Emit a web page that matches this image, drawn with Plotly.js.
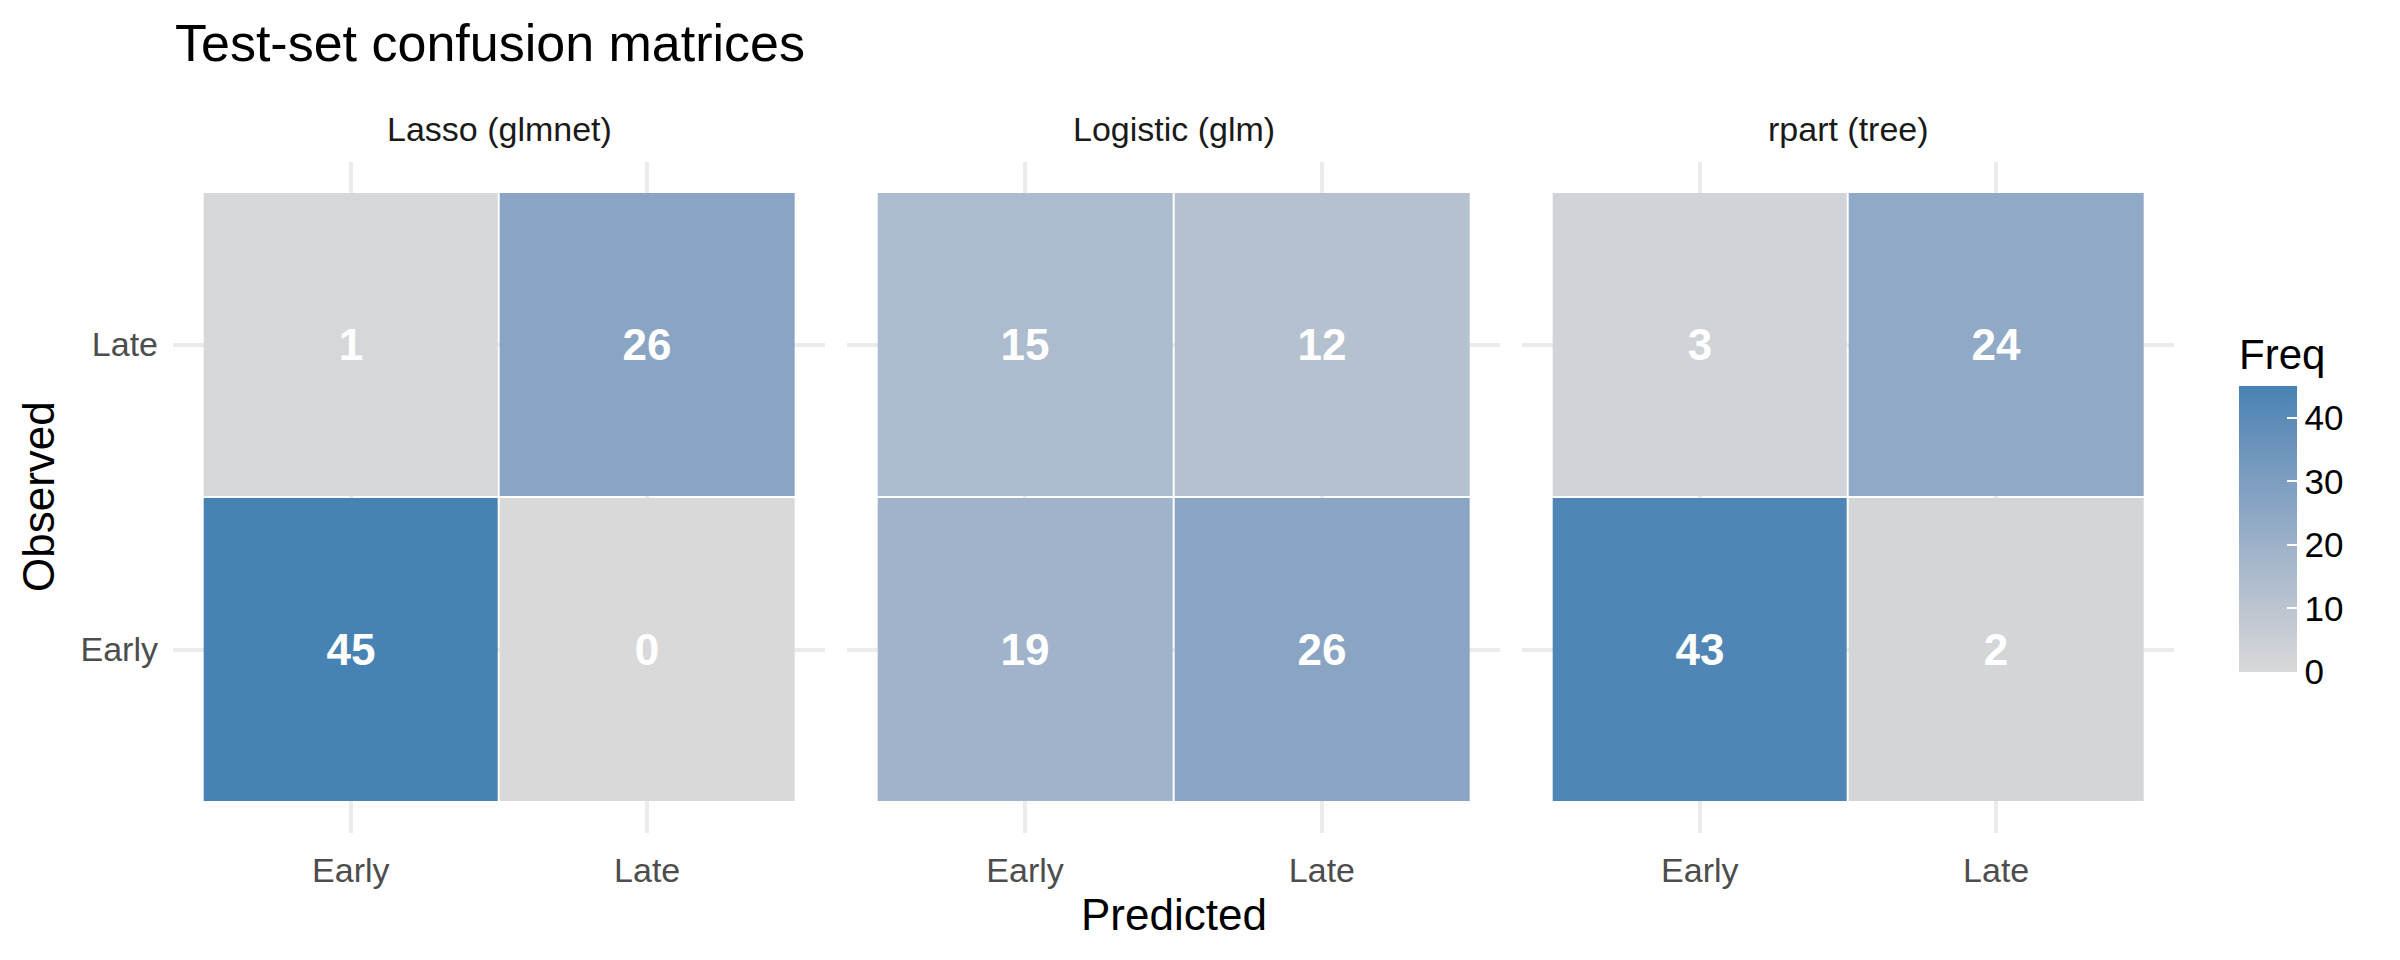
<!DOCTYPE html>
<html>
<head>
<meta charset="utf-8">
<script src="https://cdn.plot.ly/plotly-3.0.1.min.js"></script>
<style>
  body { margin: 0; background: #fff; }
  #chart { width: 2400px; height: 960px; }
</style>
</head>
<body>
<div id="chart"></div>
<script>
// data
var predicted = ["Early", "Late"]
var observed = ["Early", "Late"]
var models = ["Lasso (glmnet)", "Logistic (glm)", "rpart (tree)"]
// rows = observed (Early, Late), columns = predicted (Early, Late)
var lassoFreq = [[45, 0], [1, 26]]
var logisticFreq = [[19, 26], [15, 12]]
var rpartFreq = [[43, 2], [3, 24]]
var freqTicks = [0, 10, 20, 30, 40]

var W = 2400, H = 960
var FONT = "Liberation Sans, Arial, Helvetica, sans-serif"

// ggplot-style gradient (interpolated in CIELAB) from grey85 to steelblue
function toLin(c) { c /= 255; return c <= 0.04045 ? c / 12.92 : Math.pow((c + 0.055) / 1.055, 2.4) }
function fromLin(c) { c = c <= 0.0031308 ? 12.92 * c : 1.055 * Math.pow(c, 1 / 2.4) - 0.055; return Math.max(0, Math.min(255, Math.round(c * 255))) }
function rgb2lab(r, g, b) {
    r = toLin(r); g = toLin(g); b = toLin(b)
    var x = (0.4124 * r + 0.3576 * g + 0.1805 * b) / 0.95047
    var y = (0.2126 * r + 0.7152 * g + 0.0722 * b)
    var z = (0.0193 * r + 0.1192 * g + 0.9505 * b) / 1.08883
    var f = function (t) { return t > 0.008856 ? Math.cbrt(t) : 7.787 * t + 16 / 116 }
    return [116 * f(y) - 16, 500 * (f(x) - f(y)), 200 * (f(y) - f(z))]
}
function lab2rgb(L, a, bb) {
    var fy = (L + 16) / 116, fx = fy + a / 500, fz = fy - bb / 200
    var inv = function (t) { return t * t * t > 0.008856 ? t * t * t : (t - 16 / 116) / 7.787 }
    var x = inv(fx) * 0.95047, y = inv(fy), z = inv(fz) * 1.08883
    var r = 3.2406 * x - 1.5372 * y - 0.4986 * z
    var g = -0.9689 * x + 1.8758 * y + 0.0415 * z
    var b = 0.0557 * x - 0.2040 * y + 1.0570 * z
    return "rgb(" + fromLin(r) + "," + fromLin(g) + "," + fromLin(b) + ")"
}
var lo = rgb2lab(217, 217, 217), hi = rgb2lab(70, 130, 180)
var scale = []
for (var i = 0; i <= 12; i++) {
    var t = i / 12
    scale.push([t, lab2rgb(lo[0] + (hi[0] - lo[0]) * t, lo[1] + (hi[1] - lo[1]) * t, lo[2] + (hi[2] - lo[2]) * t)])
}

// panel positions (pixels)
var panelX = [[173, 825], [847, 1500], [1522, 2174]]
var panelY = [161.5, 832.5]

function heat(z, n) {
    return {
        type: "heatmap",
        x: predicted,
        y: observed,
        z: z,
        xaxis: n === 1 ? "x" : "x" + n,
        yaxis: n === 1 ? "y" : "y" + n,
        coloraxis: "coloraxis",
        xgap: 2,
        ygap: 2,
        hoverinfo: "skip",
        texttemplate: "%{z}",
        textfont: { family: FONT, size: 44, color: "#ffffff", weight: "bold" },
    }
}

var layout = {
    width: W,
    height: H,
    margin: { t: 0, l: 0, r: 0, b: 0 },
    paper_bgcolor: "#ffffff",
    plot_bgcolor: "#ffffff",
    font: { family: FONT, color: "#1a1a1a" },
    title: {
        text: "Test-set confusion matrices",
        font: { family: FONT, size: 52, color: "#000000" },
        x: 175 / W,
        xanchor: "left",
        xref: "paper",
        y: 1 - 43 / H,
        yanchor: "middle",
        yref: "paper",
    },
    coloraxis: {
        cmin: 0,
        cmax: 45,
        colorscale: scale,
        colorbar: {
            x: 2239 / W,
            xanchor: "left",
            y: 1 - 672 / H,
            yanchor: "bottom",
            thickness: 58,
            thicknessmode: "pixels",
            len: 338,
            lenmode: "pixels",
            outlinewidth: 0,
            xpad: 0,
            ypad: 0,
            tickvals: freqTicks,
            tickprefix: "\u00a0\u00a0",
            ticks: "inside",
            ticklen: 10,
            tickwidth: 2,
            tickcolor: "#ffffff",
            tickfont: { family: FONT, size: 35, color: "#000000" },
            title: {
                text: "Freq",
                side: "top",
                font: { family: FONT, size: 42, color: "#000000" },
            },
        },
    },
    annotations: [],
}

for (var p = 0; p < 3; p++) {
    var sx = p === 0 ? "" : String(p + 1)
    layout["xaxis" + sx] = {
        domain: [panelX[p][0] / W, panelX[p][1] / W],
        anchor: "y" + sx,
        type: "category",
        categoryarray: predicted,
        range: [-0.6, 1.6],
        showgrid: true,
        gridcolor: "#ebebeb",
        gridwidth: 4,
        zeroline: false,
        showline: false,
        ticks: "",
        ticklabelstandoff: 14,
        tickfont: { family: FONT, size: 34, color: "#4d4d4d" },
        fixedrange: true,
    }
    layout["yaxis" + sx] = {
        domain: [1 - panelY[1] / H, 1 - panelY[0] / H],
        anchor: "x" + sx,
        type: "category",
        categoryarray: observed,
        range: [-0.6, 1.6],
        showgrid: true,
        gridcolor: "#ebebeb",
        gridwidth: 4,
        zeroline: false,
        showline: false,
        ticks: "",
        showticklabels: p === 0,
        ticklabelstandoff: 14,
        tickfont: { family: FONT, size: 34, color: "#4d4d4d" },
        fixedrange: true,
    }
    layout.annotations.push({
        text: models[p],
        showarrow: false,
        font: { family: FONT, size: 34, color: "#1a1a1a" },
        x: (panelX[p][0] + panelX[p][1]) / 2 / W,
        y: 1 - 129 / H,
        xref: "paper",
        yref: "paper",
        xanchor: "center",
        yanchor: "middle",
    })
}

layout.annotations.push({
    text: "Predicted",
    showarrow: false,
    font: { family: FONT, size: 44, color: "#000000" },
    x: (panelX[0][0] + panelX[2][1]) / 2 / W,
    y: 1 - 914 / H,
    xref: "paper",
    yref: "paper",
    xanchor: "center",
    yanchor: "middle",
})
layout.annotations.push({
    text: "Observed",
    showarrow: false,
    textangle: -90,
    font: { family: FONT, size: 44, color: "#000000" },
    x: 38 / W,
    y: 1 - (panelY[0] + panelY[1]) / 2 / H,
    xref: "paper",
    yref: "paper",
    xanchor: "center",
    yanchor: "middle",
})

Plotly.newPlot(
    document.getElementById("chart"),
    [heat(lassoFreq, 1), heat(logisticFreq, 2), heat(rpartFreq, 3)],
    layout,
    { displayModeBar: false, staticPlot: true }
)
</script>
</body>
</html>
